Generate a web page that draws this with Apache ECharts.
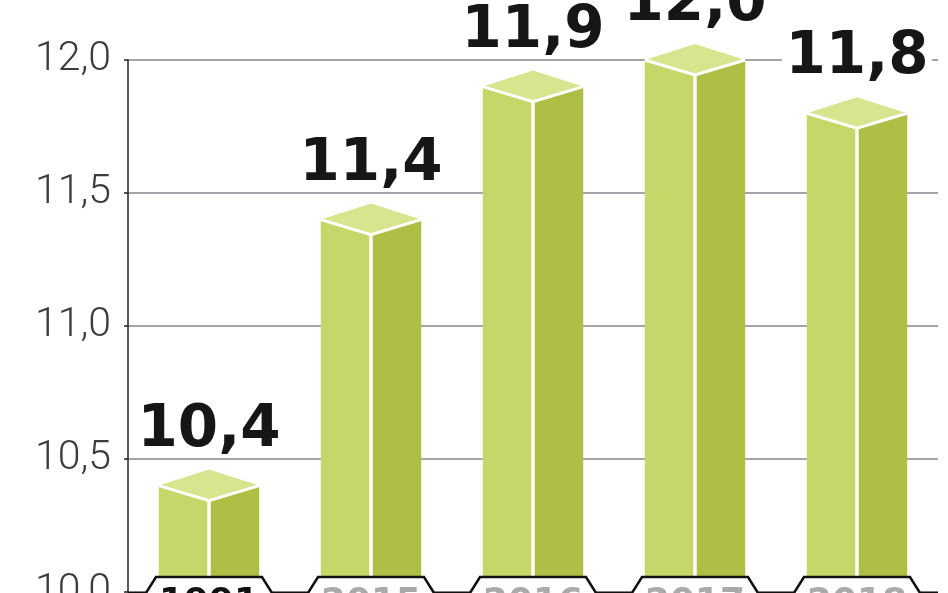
<!DOCTYPE html>
<html>
<head>
<meta charset="utf-8">
<script src="https://cdn.jsdelivr.net/npm/echarts@6/dist/echarts.min.js"></script>
<style>
html,body{margin:0;padding:0;background:#fff;}
#chart{width:948px;height:593px;}
</style>
</head>
<body>
<div id="chart"></div>
<script>
const categories = ['1991', '2015', '2016', '2017', '2018'];
const values = [10.4, 11.4, 11.9, 12.0, 11.8];
const yMin = 10.0;
const yMax = 12.0;
const yStep = 0.5;

const COLOR_LEFT = '#c6d76a';
const COLOR_RIGHT = '#afbe45';
const COLOR_TOP = '#d8e48e';

function fmt(v) { return v.toFixed(1).replace('.', ','); }

const chart = echarts.init(document.getElementById('chart'), null, {renderer: 'canvas'});

const option = {
  animation: false,
  backgroundColor: '#ffffff',
  grid: {left: 128, right: 10, top: 60, bottom: 1, containLabel: false, outerBoundsMode: 'none'},
  xAxis: {
    type: 'category',
    data: categories,
    show: false,
    boundaryGap: true
  },
  yAxis: {
    type: 'value',
    min: yMin,
    max: yMax,
    interval: yStep,
    axisLine: {show: true, lineStyle: {color: '#222', width: 1.5}},
    axisTick: {show: true, length: 4, lineStyle: {color: '#222', width: 1.5}},
    axisLabel: {
      formatter: function (v) { return fmt(v); },
      color: '#3c3c3c',
      fontFamily: 'Roboto',
      fontWeight: 300,
      fontSize: 41,
      margin: 17,
      hideOverlap: false
    },
    splitLine: {show: true, lineStyle: {color: '#85878f', width: 1.5}}
  },
  series: [
    {
      type: 'custom',
      name: 'bars',
      z: 2,
      data: values.map(function (v, i) { return [i, v]; }),
      renderItem: function (params, api) {
        const i = api.value(0), v = api.value(1);
        const p = api.coord([i, v]);
        const b = api.coord([i, yMin]);
        const band = api.size([1, 0])[0];
        const hw = band * 0.31;
        const d = 15, u = 16;
        const cx = p[0], vy = p[1], by = b[1];
        return {
          type: 'group',
          children: [
            {type: 'polygon', shape: {points: [[cx - hw, vy], [cx, vy + d], [cx, by], [cx - hw, by]]}, style: {fill: COLOR_LEFT}},
            {type: 'polygon', shape: {points: [[cx, vy + d], [cx + hw, vy], [cx + hw, by], [cx, by]]}, style: {fill: COLOR_RIGHT}},
            {type: 'polygon', shape: {points: [[cx - hw, vy], [cx, vy - u], [cx + hw, vy], [cx, vy + d]]}, style: {fill: COLOR_TOP}},
            {type: 'polyline', shape: {points: [[cx - hw, vy], [cx, vy + d], [cx + hw, vy]]}, style: {stroke: '#ffffff', lineWidth: 3, fill: null}},
            {type: 'line', shape: {x1: cx, y1: vy + d, x2: cx, y2: by}, style: {stroke: '#ffffff', lineWidth: 3.5}}
          ]
        };
      }
    },
    {
      type: 'custom',
      name: 'labels',
      z: 3,
      data: values.map(function (v, i) { return [i, v]; }),
      renderItem: function (params, api) {
        const i = api.value(0), v = api.value(1);
        const p = api.coord([i, v]);
        const cx = p[0], vy = p[1];
        const baseline = vy - 34;
        return {
          type: 'group',
          children: [
            {type: 'rect', shape: {x: cx - 75, y: baseline - 44, width: 150, height: 45}, style: {fill: '#ffffff'}},
            {type: 'text', style: {
              text: fmt(v), x: cx, y: baseline - 21,
              align: 'center', verticalAlign: 'middle',
              fontFamily: 'DejaVu Sans', fontWeight: 'bold', fontSize: 58, fill: '#161616'
            }}
          ]
        };
      }
    },
    {
      type: 'custom',
      name: 'categoryBoxes',
      z: 4,
      data: categories.map(function (c, i) { return [i, yMin]; }),
      renderItem: function (params, api) {
        const i = api.value(0);
        const b = api.coord([i, yMin]);
        const band = api.size([1, 0])[0];
        const cx = b[0], by = b[1];
        const tw = 53, bw = 64, h = 15;
        const idx = params.dataIndex;
        return {
          type: 'group',
          children: [
            {type: 'polygon', shape: {points: [[cx - bw, by + 2], [cx - tw, by - h], [cx + tw, by - h], [cx + bw, by + 2]]}, style: {fill: '#ffffff'}},
            {type: 'polyline', shape: {points: [[cx - band / 2, by + 1], [cx - bw + 1, by + 1], [cx - tw, by - h], [cx + tw, by - h], [cx + bw - 1, by + 1], [cx + band / 2, by + 1]]},
              style: {stroke: '#111', lineWidth: 2.5, fill: null}},
            {type: 'text', style: {
              text: categories[idx], x: cx, y: by + 12,
              align: 'center', verticalAlign: 'middle',
              fontFamily: 'DejaVu Sans', fontWeight: 'bold', fontSize: 36,
              fill: idx === 0 ? '#111' : '#aaaaaa'
            }}
          ]
        };
      }
    }
  ]
};

chart.setOption(option);
</script>
</body>
</html>
